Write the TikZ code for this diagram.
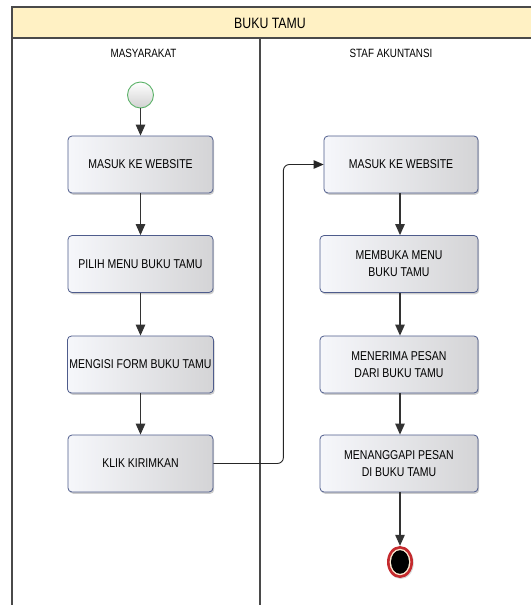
\documentclass[tikz,border=0pt]{standalone}
\usepackage{fontspec}
\setmainfont{Liberation Sans}[FakeStretch=0.82]
\usetikzlibrary{arrows.meta,shadows,shapes.geometric}

\definecolor{laneline}{HTML}{4A4A4A}
\definecolor{titlefill}{HTML}{FFF1C4}
\definecolor{boxborder}{HTML}{4E5C8C}
\definecolor{boxlight}{HTML}{F6F7FB}
\definecolor{boxdark}{HTML}{D4D4D6}
\definecolor{flowline}{HTML}{333333}
\definecolor{startgreen}{HTML}{5DB36A}
\definecolor{endred}{HTML}{C42A2E}
\definecolor{endcream}{HTML}{FBEBD2}

\newcommand{\acttext}{\fontsize{12.8}{17}\selectfont}
\newcommand{\headtext}{\fontsize{12}{14}\selectfont}
\newcommand{\titletext}{\fontsize{15}{18}\selectfont}

\begin{document}
\begin{tikzpicture}[x=1pt,y=-1pt,
  lane/.style={draw=laneline,line width=1.1pt},
  act/.style={draw=boxborder,line width=0.8pt,rounded corners=4pt,
    left color=boxlight,right color=boxdark,minimum height=57pt,
    align=center,font=\acttext,inner sep=2pt,
    drop shadow={shadow xshift=1.2pt,shadow yshift=-1.8pt,opacity=0.2,fill=black}},
  flow/.style={draw=flowline,line width=1.2pt,-{Triangle[length=11pt,width=9.5pt]}},
  handoff/.style={draw=black!85,line width=0.9pt,rounded corners=6pt,
    -{Triangle[length=10pt,width=8.5pt]}},
]
\useasboundingbox (0,0) rectangle (531,605);
\fill[white] (0,0) rectangle (531,605);

% swimlane frame
\fill[titlefill] (12,7) rectangle (531,38);
\draw[lane] (531,7) -- (12,7) -- (12,605);
\draw[lane] (12,38) -- (531,38);
\draw[lane] (260,38) -- (260,605);

\node[font=\titletext] (title) at (270,23) {BUKU TAMU};
\node[font=\headtext] (h1) at (143.5,53) {MASYARAKAT};
\node[font=\headtext] (h2) at (391,53) {STAF AKUNTANSI};

% MASYARAKAT lane
\node[circle,draw=startgreen,line width=0.9pt,top color=white,bottom color=black!18,
  minimum size=26pt,inner sep=0pt] (start) at (140.5,95) {};
\node[act,minimum width=145pt] (m1) at (140.5,164.5) {MASUK KE WEBSITE};
\node[act,minimum width=145pt] (m2) at (140.5,264) {PILIH MENU BUKU TAMU};
\node[act,minimum width=145pt] (m3) at (140.5,364.5) {MENGISI FORM BUKU TAMU};
\node[act,minimum width=145pt] (m4) at (140.5,463.5) {KLIK KIRIMKAN};

% STAF AKUNTANSI lane
\node[act,minimum width=154pt] (s1) at (401,164.5) {MASUK KE WEBSITE};
\node[act,minimum width=158pt] (s2) at (399,264) {MEMBUKA MENU\\BUKU TAMU};
\node[act,minimum width=158pt] (s3) at (399,364.5) {MENERIMA PESAN\\DARI BUKU TAMU};
\node[act,minimum width=158pt] (s4) at (399,463.5) {MENANGGAPI PESAN\\DI BUKU TAMU};

% final state
\node[ellipse,fill=endred,minimum width=26pt,minimum height=32pt,inner sep=0pt,
  drop shadow={shadow xshift=0.8pt,shadow yshift=-1pt,opacity=0.15,fill=black}] (end) at (400,562) {};
\fill[endcream] (end.center) ellipse [x radius=10.4pt,y radius=13.2pt];
\fill[black] (end.center) ellipse [x radius=9pt,y radius=11.8pt];

% flows
\draw[flow] (start) -- (m1);
\draw[flow] (m1) -- (m2);
\draw[flow] (m2) -- (m3);
\draw[flow] (m3) -- (m4);
\draw[handoff] (m4.east) -- ++(70,0) |- (s1.west);
\draw[flow] (s1.south -| end.center) -- (s2.north -| end.center);
\draw[flow] (s2.south -| end.center) -- (s3.north -| end.center);
\draw[flow] (s3.south -| end.center) -- (s4.north -| end.center);
\draw[flow] (s4.south -| end.center) -- (end);
\end{tikzpicture}
\end{document}
